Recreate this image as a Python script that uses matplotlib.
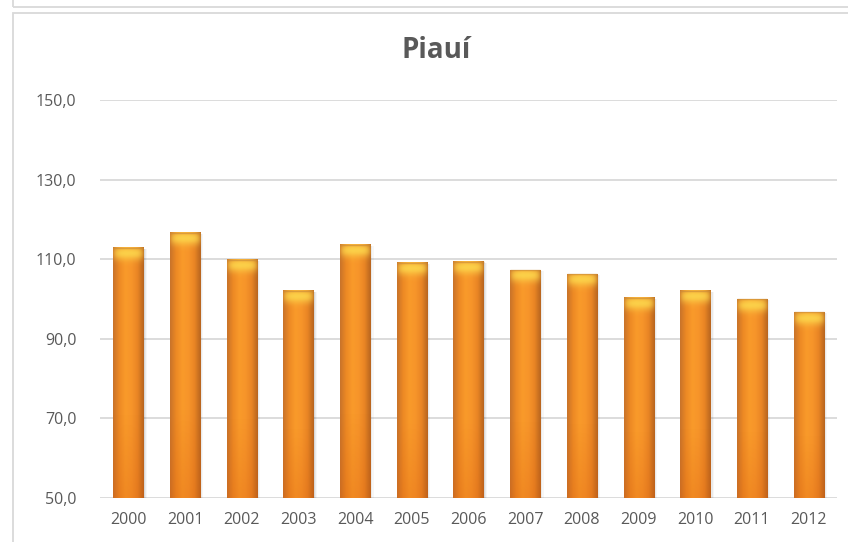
import numpy as np
import matplotlib.pyplot as plt
from matplotlib.colors import LinearSegmentedColormap
from matplotlib.patches import Rectangle

# data
years = ['2000', '2001', '2002', '2003', '2004', '2005', '2006',
         '2007', '2008', '2009', '2010', '2011', '2012']
values = [113.0, 116.8, 110.0, 102.2, 113.8, 109.3, 109.5,
          107.4, 106.4, 100.4, 102.2, 100.1, 96.8]
y_ticks = [50, 70, 90, 110, 130, 150]
title = 'Piauí'

plt.rcParams['font.family'] = ['Open Sans', 'DejaVu Sans']
text_color = '#595959'
grid_color = '#D9D9D9'

fig = plt.figure(figsize=(8.48, 5.42), dpi=100)
W, H = 848, 542

# outer frames (bottom of previous chart + this chart)
fig.add_artist(Rectangle((13 / W, 1 - 7 / H), 1, 1, transform=fig.transFigure,
                         fill=False, edgecolor=grid_color, lw=1.3))
fig.add_artist(Rectangle((13 / W, -0.05), 1, 1 - 13 / H + 0.05,
                         transform=fig.transFigure, fill=False,
                         edgecolor=grid_color, lw=1.3))

ax = fig.add_axes([100 / W, 1 - 498 / H, 737 / W, 398 / H])

for s in ax.spines.values():
    s.set_visible(False)
ax.set_yticks(y_ticks)
ax.set_yticklabels([f'{v:.1f}'.replace('.', ',') for v in y_ticks])
ax.set_xticks(range(len(years)))
ax.set_xticklabels(years)
ax.tick_params(length=0, labelsize=11.5, colors=text_color)
ax.tick_params(axis='y', pad=17)
ax.tick_params(axis='x', pad=10)
ax.yaxis.grid(True, color=grid_color, lw=1.3)
ax.set_axisbelow(True)

# horizontal shading of a cylinder-like bar
body = LinearSegmentedColormap.from_list(
    'body', ['#C9732A', '#EE8A24', '#F99A2A', '#F7952A', '#E98524', '#B8651F'])
grad = np.tile(np.linspace(0, 1, 64), (64, 1))

# reddish tint near the base
tint = np.zeros((64, 2, 4))
tint[..., 0] = 0.85
tint[..., 1] = 0.35
tint[..., 2] = 0.05
tint[..., 3] = np.clip(1 - np.linspace(0, 1, 64)[:, None] * 3, 0, 1)[::-1] * 0.25

# yellow glow under the top edge
cx = np.linspace(-1, 1, 32)[None, :]
cy = np.linspace(0, 1, 24)[:, None]
cap = np.zeros((24, 32, 4))
cap[..., 0] = 0.99
cap[..., 1] = 0.84
cap[..., 2] = 0.30
cap[..., 3] = np.clip(1 - cx ** 4 * 0.7, 0, 1) * np.exp(-((cy - 0.3) / 0.35) ** 2) * 0.9

width = 0.53
bars = ax.bar(range(len(years)), [v - 50 for v in values], bottom=50,
              width=width, color='#F39325', zorder=2)
for i, (b, v) in enumerate(zip(bars, values)):
    x0 = i - width / 2
    # soft shadow on the right
    for k, a in enumerate([0.07, 0.05, 0.03]):
        ax.add_patch(Rectangle((x0 + 0.02 * (k + 1), 50), width, v - 50 - 0.4,
                               color='#000000', alpha=a, zorder=1.5, lw=0))
    img = ax.imshow(grad, cmap=body, extent=[x0, x0 + width, 50, v],
                    aspect='auto', zorder=2.1, interpolation='bilinear')
    img.set_clip_path(b)
    t = ax.imshow(tint, extent=[x0, x0 + width, 50, v], aspect='auto',
                  zorder=2.2, interpolation='bilinear')
    t.set_clip_path(b)
    c = ax.imshow(cap, extent=[x0, x0 + width, v - 5, v],
                  aspect='auto', zorder=2.3, interpolation='bilinear')
    c.set_clip_path(b)
    # thin brownish top edge
    ax.plot([x0, x0 + width], [v - 0.15, v - 0.15], color='#C98A3A',
            lw=1, alpha=0.6, zorder=2.4, solid_capstyle='butt')

ax.set_xlim(-0.5, len(years) - 0.5)
ax.set_ylim(50, 150)

fig.text(436.5 / W, 1 - 51 / H, title, ha='center', va='center',
         fontsize=20, fontweight='bold', color=text_color)

fig.savefig('out.png', dpi=100)
